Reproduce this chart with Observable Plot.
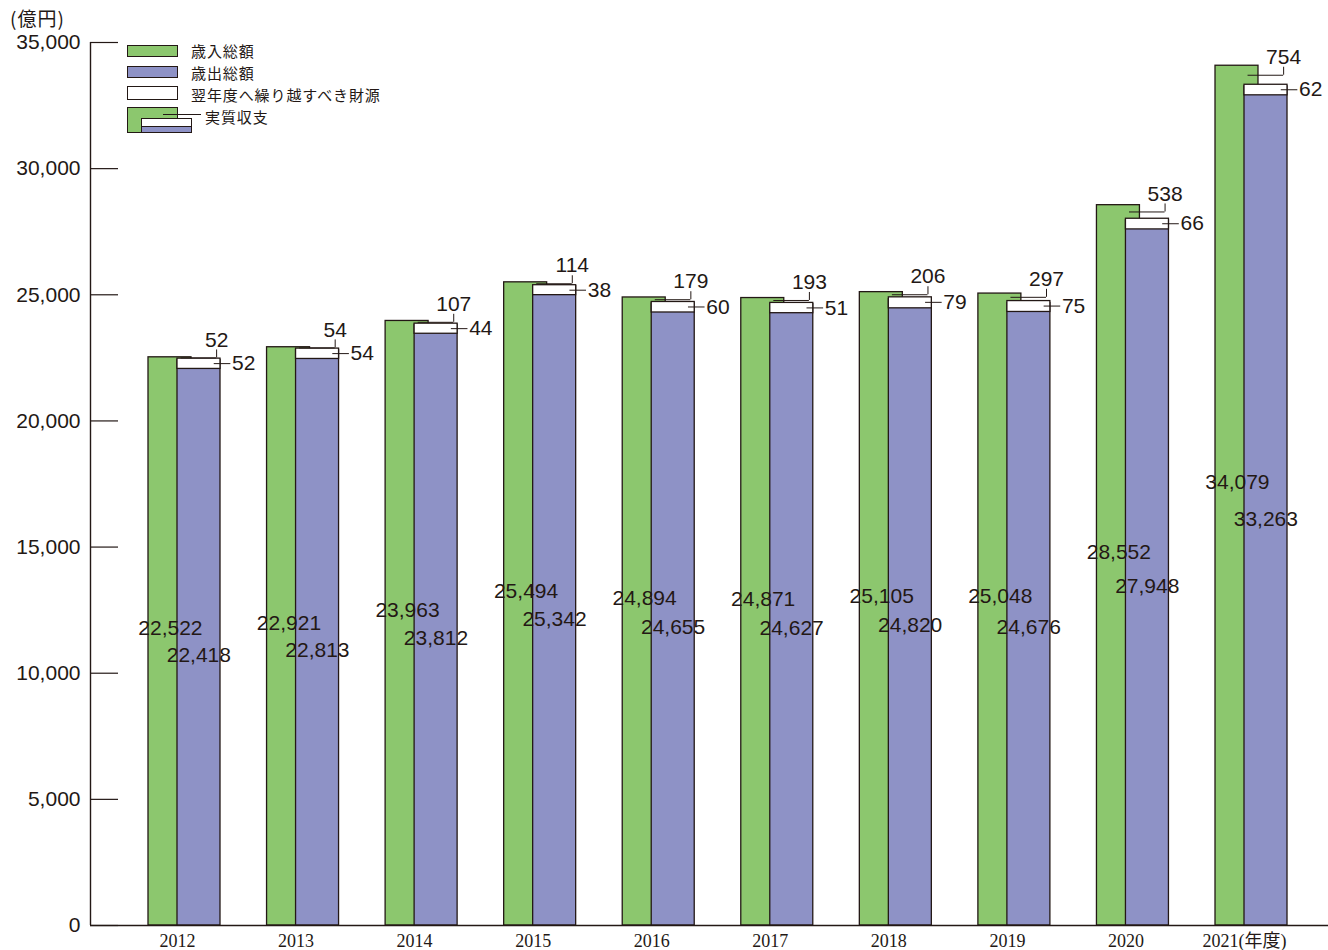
<!DOCTYPE html>
<html><head><meta charset="utf-8">
<script src="https://cdn.jsdelivr.net/npm/d3@7"></script>
<script src="https://cdn.jsdelivr.net/npm/@observablehq/plot@0.6"></script>
<style>
body{margin:0;background:#fff;}
#wrap{position:relative;width:1328px;height:950px;font-family:"Noto Sans CJK JP",sans-serif;color:#231815;}
.sw{position:absolute;border:1.3px solid #231815;box-sizing:border-box;}
.lt{position:absolute;font-size:15px;line-height:15px;letter-spacing:0.9px;white-space:nowrap;}
</style></head><body><div id="wrap"></div>
<script>
// ---- data ----
const years = [2012, 2013, 2014, 2015, 2016, 2017, 2018, 2019, 2020, 2021];
const revenue = [22522, 22921, 23963, 25494, 24894, 24871, 25105, 25048, 28552, 34079];      // 歳入総額
const expenditure = [22418, 22813, 23812, 25342, 24655, 24627, 24820, 24676, 27948, 33263];  // 歳出総額
const balance = [52, 54, 107, 114, 179, 193, 206, 297, 538, 754];                            // 実質収支
const carryover = [52, 54, 44, 38, 60, 51, 79, 75, 66, 62];                                  // 翌年度へ繰り越すべき財源
const yTicks = [0, 5000, 10000, 15000, 20000, 25000, 30000, 35000];
const seriesNames = ["歳入総額", "歳出総額", "翌年度へ繰り越すべき財源", "実質収支"];
const unitLabel = "(億円)";
const lastYearSuffix = "(年度)";

// ---- styles ----
const ink = "#231815";
const green = "#8cc76e";
const blue = "#8e92c6";
const fmt = d3.format(",");

const rows = years.map((year, i) => ({
  year, revenue: revenue[i], expenditure: expenditure[i],
  balance: balance[i], carryover: carryover[i]
}));
const gapMid = d => d.revenue - d.balance / 2;
const carryTop = d => d.expenditure + d.carryover;

const xDomain = [2011.2662, 2021.7085];
const numFont = "'Liberation Sans', Arial, sans-serif";

const chart = Plot.plot({
  width: 1328, height: 950,
  marginLeft: 90, marginRight: 0, marginTop: 42, marginBottom: 25,
  x: {type: "linear", domain: xDomain, axis: null},
  y: {domain: [0, 35000], axis: null},
  style: {fontFamily: numFont, background: "white", color: ink, overflow: "visible"},
  marks: [
    // bars
    Plot.rectY(rows, {x1: d => d.year - 0.2446, x2: d => d.year + 0.118, y1: 0, y2: "revenue",
      fill: green, stroke: ink, strokeWidth: 1.3}),
    Plot.rectY(rows, {x1: d => d.year, x2: d => d.year + 0.3627, y1: 0, y2: "expenditure",
      fill: blue, stroke: ink, strokeWidth: 1.3}),
    Plot.rectY(rows, {x1: d => d.year, x2: d => d.year + 0.3627, y1: "expenditure", y2: carryTop,
      insetBottom: -9, fill: "white", stroke: ink, strokeWidth: 1.3}),
    // axes
    Plot.ruleY(yTicks, {stroke: ink, strokeWidth: 1.2, insetRight: 1210}),
    Plot.ruleY([0], {stroke: ink, strokeWidth: 1.4}),
    Plot.ruleX([xDomain[0]], {stroke: ink, strokeWidth: 1.4}),
    Plot.axisY(yTicks, {tickSize: 0, tickPadding: 10, tickFormat: fmt, fontSize: 21,
      fontFamily: numFont, fill: ink, label: null}),
    Plot.axisX(years, {tickSize: 0, tickPadding: 9, fontSize: 18,
      fontFamily: "'Liberation Serif', 'Noto Sans CJK JP', serif", fill: ink, label: null,
      tickFormat: d => d === years[years.length - 1] ? d + lastYearSuffix : String(d)}),
    // 実質収支 leader + label
    Plot.ruleY(rows, {y: gapMid, x1: d => d.year + 0.03, x2: d => d.year + 0.33, stroke: ink, strokeWidth: 1}),
    Plot.ruleX(rows, {x: d => d.year + 0.33, y1: gapMid, y2: gapMid, insetTop: -8, stroke: ink, strokeWidth: 1}),
    Plot.text(rows, {x: d => d.year + 0.33, y: gapMid, dy: -18, text: d => fmt(d.balance),
      fontSize: 21, fill: ink}),
    // 繰越財源 leader + label
    Plot.ruleY(rows, {y: carryTop, dy: 5, x1: d => d.year + 0.31, x2: d => d.year + 0.45, stroke: ink, strokeWidth: 1}),
    Plot.text(rows, {x: d => d.year + 0.46, y: carryTop, dy: 5, text: d => fmt(d.carryover),
      textAnchor: "start", fontSize: 21, fill: ink}),
    // inner value labels
    Plot.text(rows, {x: d => d.year - 0.06, y: d => d.revenue / 2, dy: -13, text: d => fmt(d.revenue),
      fontSize: 21, fill: ink}),
    Plot.text(rows, {x: d => d.year + 0.18, y: d => d.expenditure / 2, dy: 13, text: d => fmt(d.expenditure),
      fontSize: 21, fill: ink})
  ]
});

const wrap = document.getElementById("wrap");
wrap.appendChild(chart);

// unit label and legend (overlaid inside the plot area)
function add(html) { wrap.insertAdjacentHTML("beforeend", html); }
add(`<div class="lt" style="left:10px;top:8px;font-size:19px;line-height:19px;letter-spacing:1px;">${unitLabel}</div>`);
add(`<div class="sw" style="left:127px;top:45px;width:51px;height:12px;background:${green}"></div>`);
add(`<div class="lt" style="left:191px;top:43px;">${seriesNames[0]}</div>`);
add(`<div class="sw" style="left:127px;top:66px;width:51px;height:12px;background:${blue}"></div>`);
add(`<div class="lt" style="left:191px;top:65px;">${seriesNames[1]}</div>`);
add(`<div class="sw" style="left:127px;top:86px;width:51px;height:14px;background:#fff"></div>`);
add(`<div class="lt" style="left:191px;top:87px;">${seriesNames[2]}</div>`);
add(`<div class="sw" style="left:127px;top:107px;width:51px;height:26px;background:${green}"></div>`);
add(`<div class="sw" style="left:141px;top:118px;width:51px;height:15px;background:${blue}"></div>`);
add(`<div class="sw" style="left:141px;top:118px;width:51px;height:9px;background:#fff"></div>`);
add(`<div style="position:absolute;left:163px;top:114px;width:38px;height:1.2px;background:${ink}"></div>`);
add(`<div class="lt" style="left:205px;top:109px;">${seriesNames[3]}</div>`);
</script></body></html>
